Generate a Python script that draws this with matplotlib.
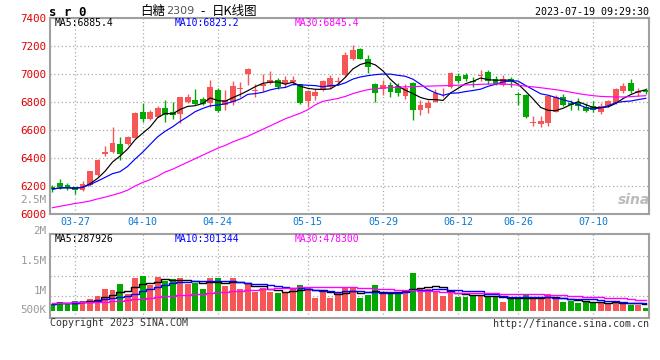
import numpy as np
import pandas as pd
import matplotlib
matplotlib.use('Agg')
import matplotlib.pyplot as plt

# daily candles, sugar SR2309, 2023-03-22 .. 2023-07-19
opens = [6195, 6222, 6210, 6190, 6174, 6205, 6275, 6432, 6440, 6498,
         6500, 6545, 6725, 6680, 6695, 6760, 6730, 6712, 6800, 6814,
         6822, 6790, 6886, 6779, 6802, 6896, 7000, 6880, 6912, 6938,
         6960, 6928, 6942, 6928, 6810, 6845, 6886, 6910, 6942, 6993,
         7105, 7180, 7105, 6930, 6890, 6922, 6915, 6845, 6937, 6740,
         6760, 6803, 6868, 6905, 6985, 6993, 6950, 6988, 7015, 6962,
         6920, 6965, 6855, 6852, 6650, 6640, 6648, 6730, 6835, 6795,
         6803, 6766, 6768, 6728, 6772, 6792, 6876, 6938, 6862, 6885]
highs = [6205, 6252, 6220, 6195, 6235, 6306, 6390, 6487, 6620, 6548,
         6558, 6726, 6795, 6745, 6768, 6815, 6800, 6835, 6856, 6890,
         6835, 6957, 6898, 6886, 6952, 6945, 7045, 6930, 7000, 7022,
         6968, 6986, 6988, 6932, 6885, 6890, 6955, 6993, 6975, 7158,
         7205, 7188, 7135, 6935, 6958, 6945, 6935, 6925, 6945, 6815,
         6815, 6895, 6902, 7015, 7005, 7008, 6980, 7030, 7028, 6985,
         6990, 6980, 6868, 6858, 6700, 6698, 6852, 6850, 6860, 6812,
         6828, 6793, 6808, 6790, 6815, 6900, 6935, 6965, 6898, 6898]
lows = [6160, 6180, 6170, 6143, 6162, 6200, 6270, 6415, 6435, 6388,
        6490, 6540, 6660, 6670, 6690, 6660, 6675, 6650, 6795, 6775,
        6775, 6765, 6730, 6743, 6780, 6838, 6921, 6838, 6880, 6929,
        6895, 6910, 6921, 6788, 6766, 6814, 6880, 6898, 6921, 6985,
        7100, 7105, 7010, 6802, 6848, 6835, 6845, 6820, 6668, 6705,
        6720, 6800, 6838, 6900, 6935, 6950, 6905, 6950, 6930, 6918,
        6912, 6905, 6782, 6685, 6628, 6618, 6630, 6725, 6770, 6745,
        6745, 6728, 6730, 6712, 6765, 6786, 6865, 6866, 6845, 6855]
closes = [6178, 6195, 6190, 6174, 6216, 6304, 6388, 6445, 6505, 6428,
          6553, 6722, 6675, 6730, 6760, 6705, 6707, 6833, 6837, 6786,
          6785, 6905, 6738, 6814, 6914, 6899, 7036, 6885, 6932, 6957,
          6905, 6957, 6955, 6790, 6880, 6873, 6950, 6974, 6952, 7135,
          7170, 7110, 7048, 6862, 6922, 6868, 6865, 6902, 6745, 6782,
          6795, 6862, 6872, 7010, 6948, 6963, 6945, 6992, 6950, 6928,
          6966, 6945, 6850, 6692, 6655, 6665, 6840, 6838, 6780, 6782,
          6770, 6735, 6740, 6772, 6808, 6893, 6912, 6878, 6880, 6874]
# 30-day average (it needs history before the window)
ma30 = [6045, 6055, 6065, 6075, 6083, 6093, 6108, 6120, 6135, 6150,
        6170, 6200, 6225, 6245, 6270, 6300, 6320, 6345, 6370, 6395,
        6420, 6445, 6470, 6490, 6515, 6535, 6555, 6580, 6605, 6630,
        6655, 6680, 6700, 6720, 6745, 6780, 6805, 6815, 6825, 6840,
        6860, 6875, 6888, 6895, 6900, 6903, 6906, 6908, 6910, 6912,
        6913, 6915, 6916, 6918, 6920, 6922, 6924, 6926, 6928, 6929,
        6928, 6925, 6920, 6913, 6908, 6902, 6895, 6888, 6880, 6870,
        6860, 6852, 6845, 6840, 6838, 6836, 6836, 6838, 6842, 6845]
# volume, thousands of lots
volumes = [295, 345, 292, 372, 372, 417, 492, 667, 655, 792,
           538, 942, 992, 767, 967, 880, 912, 940, 800, 825,
           667, 945, 945, 742, 950, 667, 784, 592, 684, 590,
           567, 590, 684, 767, 684, 450, 617, 445, 559, 709,
           700, 450, 517, 767, 575, 534, 534, 642, 1070, 700,
           667, 617, 492, 600, 475, 475, 517, 492, 492, 475,
           350, 417, 417, 534, 467, 417, 534, 409, 350, 367,
           325, 350, 330, 309, 309, 370, 310, 280, 280, 200]
vol_ma30 = [325, 327, 330, 333, 337, 340, 345, 350, 360, 375,
            392, 410, 425, 440, 460, 490, 505, 520, 530, 540,
            550, 565, 590, 600, 615, 630, 640, 650, 662, 672,
            685, 695, 705, 708, 710, 710, 710, 710, 712, 715,
            720, 700, 690, 680, 670, 665, 650, 645, 640, 630,
            625, 615, 600, 590, 580, 575, 570, 570, 565, 560,
            555, 545, 540, 540, 538, 535, 530, 515, 510, 505,
            500, 480, 475, 460, 455, 450, 440, 425, 405, 395]

tick_idx = [3, 12, 22, 34, 44, 54, 62, 72]
tick_labels = ['03-27', '04-10', '04-24', '05-15', '05-29', '06-12', '06-26', '07-10']

RED = '#f65656'
GREEN = '#00a800'
GRID = '#aaaaaa'
BORDER = '#a0a0a0'

plt.rcParams['font.family'] = 'DejaVu Sans Mono'
W, H = 660, 360
fig = plt.figure(figsize=(6.6, 3.6), dpi=100)


def box(l, t, r, b):
    return [l / W, 1 - b / H, (r - l) / W, (b - t) / H]


def ftext(px, py, s, **kw):
    kw.setdefault('va', 'center')
    return fig.text(px / W, 1 - py / H, s, **kw)


o = np.array(opens, float)
c = np.array(closes, float)
x = np.arange(len(c))
colors = np.where(c >= o, RED, GREEN)
ma5 = pd.Series(c).rolling(5, min_periods=1).mean()
ma10 = pd.Series(c).rolling(10, min_periods=1).mean()

ax = fig.add_axes(box(50, 18, 649, 214))
ax.vlines(x, lows, highs, colors=colors, lw=1)
ax.bar(x, np.maximum(np.abs(c - o), 6), bottom=np.minimum(o, c),
       width=0.78, color=colors, lw=0)
ax.plot(x, ma5, color='black', lw=0.85)
ax.plot(x, ma10, color='#0000ff', lw=0.85)
ax.plot(x, ma30, color='#ff00ff', lw=0.85)
ax.set_xlim(-0.33, 79.43)
ax.set_ylim(6000, 7400)
ax.set_yticks(range(6000, 7401, 200))
ax.set_xticks(tick_idx, tick_labels)
ax.tick_params(length=0, labelsize=7.2)
ax.tick_params(axis='y', labelcolor='#dd0000', pad=2.4, labelsize=7.8)
ax.tick_params(axis='x', labelcolor='#0a78d2', pad=2.5)
ax.grid(ls=(0, (1, 2)), color=GRID, lw=0.9)
ax.set_axisbelow(True)

# volume panel
v = np.array(volumes, float) * 1000
base = 117500
vma5 = pd.Series(v).rolling(5, min_periods=1).mean()
vma10 = pd.Series(v).rolling(10, min_periods=1).mean()
axv = fig.add_axes(box(50, 234, 649, 318))
axv.bar(x, v - base, bottom=base, width=0.78, color=colors, lw=0)
axv.plot(x, vma5, color='black', lw=1, drawstyle='steps-mid')
axv.plot(x, vma10, color='#0000ff', lw=1, drawstyle='steps-mid')
axv.plot(x, np.array(vol_ma30) * 1000, color='#ff00ff', lw=1, drawstyle='steps-mid')
axv.set_xlim(-0.33, 79.43)
axv.set_ylim(-57500, 2042500)
axv.set_yticks([500000, 1000000, 1500000], [])
axv.set_xticks(tick_idx, [])
axv.tick_params(length=0)
axv.grid(ls=(0, (1, 2)), color=GRID, lw=0.9)
axv.set_axisbelow(True)

for a in (ax, axv):
    for sp in a.spines.values():
        sp.set_color(BORDER)
        sp.set_linewidth(1.5)

# volume axis labels as sina draws them
for py, s in [(200, '2.5M'), (231, '2M'), (260.7, '1.5M'), (291, '1M'), (310, '500K')]:
    ftext(46.5, py, s, ha='right', color='#999999', fontsize=7.8)

cjk = ['Noto Sans CJK SC', 'DejaVu Sans']
ftext(49, 12, 's r 0', fontsize=9, fontweight='bold')
ftext(165, 11.5, '白糖', ha='right', fontsize=9, family=cjk)
ftext(166, 11.5, '2309', ha='left', fontsize=8, color='#555555', family='DejaVu Sans')
ftext(203, 11.5, '-', ha='center', fontsize=9, family=cjk)
ftext(212, 11.5, '日K线图', ha='left', fontsize=9, family=cjk)
ftext(649, 12, '2023-07-19 09:29:30', ha='right', fontsize=7.2)

ftext(55, 23.5, 'MA5:6885.4', fontsize=7, color='black')
ftext(175, 23.5, 'MA10:6823.2', fontsize=7, color='#0000ff')
ftext(295, 23.5, 'MA30:6845.4', fontsize=7, color='#ff00ff')
ftext(55, 238.5, 'MA5:287926', fontsize=7, color='black')
ftext(175, 238.5, 'MA10:301344', fontsize=7, color='#0000ff')
ftext(295, 238.5, 'MA30:478300', fontsize=7, color='#ff00ff')

ftext(50, 323.5, 'Copyright 2023 SINA.COM', fontsize=7.2, color='#333333')
ftext(649, 324, 'http://finance.sina.com.cn', ha='right', fontsize=7.2, color='#333333')
ftext(634, 200, 'sina', ha='center', fontsize=10, fontweight='bold',
      style='italic', color='#bbbbbb', family='DejaVu Sans')

fig.savefig('out.png', dpi=100, facecolor='white')
